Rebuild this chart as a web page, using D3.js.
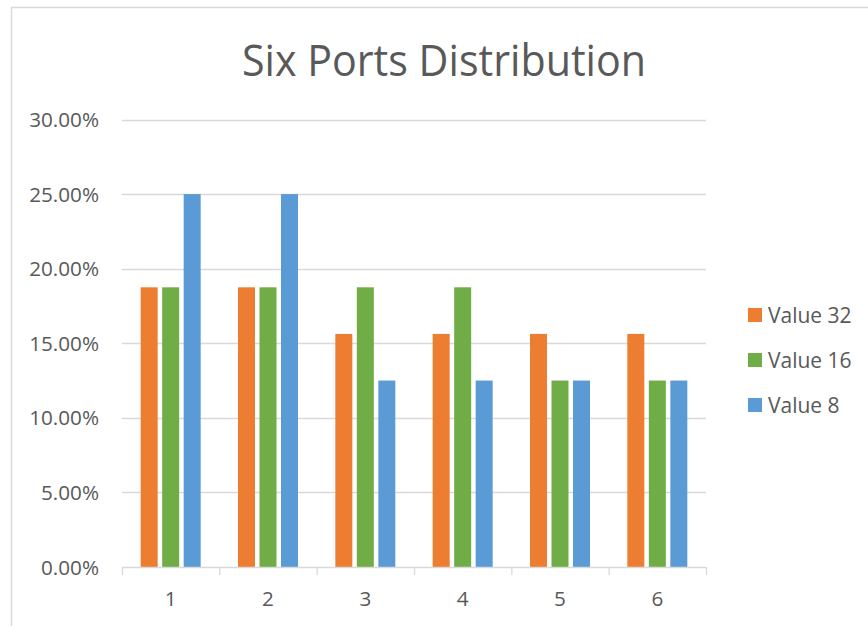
<!DOCTYPE html>
<html><head><meta charset="utf-8">
<script src="https://cdn.jsdelivr.net/npm/d3@7"></script>
<style>html,body{margin:0;padding:0;background:#fff;}svg{display:block;}</style>
</head><body>
<script>
const categories = ["1","2","3","4","5","6"];
const seriesNames = ["Value 32","Value 16","Value 8"];
const value32 = [0.1875,0.1875,0.15625,0.15625,0.15625,0.15625];
const value16 = [0.1875,0.1875,0.1875,0.1875,0.125,0.125];
const value8  = [0.25,0.25,0.125,0.125,0.125,0.125];
const yTicks = [0,0.05,0.10,0.15,0.20,0.25,0.30];
const colors = ["#ED7D31","#70AD47","#5B9BD5"];
const series = [value32,value16,value8];

const W=868,H=626;
const svg=d3.select("body").append("svg").attr("width",W).attr("height",H);
const font="'Open Sans', 'Liberation Sans', sans-serif";
const textColor="#595959", gridColor="#d9d9d9";

// chart border
svg.append("path").attr("d",`M11.5,${H} V7.5 H${W}`).attr("fill","none").attr("stroke",gridColor).attr("stroke-width",1.5);

// title
svg.append("text").attr("x",444).attr("y",76).attr("text-anchor","middle")
  .attr("font-family",font).attr("font-weight",400).attr("font-size",43).attr("fill",textColor)
  .attr("textLength",404).attr("lengthAdjust","spacingAndGlyphs")
  .text("Six Ports Distribution");

const x=d3.scaleBand().domain(categories).range([122,706]).padding(0);
const y=d3.scaleLinear().domain([0,0.30]).range([567,119.5]);

// gridlines
svg.append("g").selectAll("line").data(yTicks.slice(1)).join("line")
  .attr("x1",122).attr("x2",706).attr("y1",d=>Math.round(y(d))+0.5).attr("y2",d=>Math.round(y(d))+0.5)
  .attr("stroke",gridColor).attr("stroke-width",1.3);

// y labels
svg.append("g").selectAll("text").data(yTicks).join("text")
  .attr("x",99).attr("y",d=>y(d)+7.5).attr("text-anchor","end")
  .attr("font-family",font).attr("font-size",20.7).attr("fill",textColor)
  .text(d=>d3.format(".2%")(d));

// bars
const barW=17, step=21.5;
series.forEach((vals,si)=>{
  svg.append("g").selectAll("rect").data(vals).join("rect")
    .attr("x",(d,i)=>x(categories[i])+x.bandwidth()/2+(si-1)*step-barW/2)
    .attr("width",barW)
    .attr("y",d=>y(d))
    .attr("height",d=>y(0)-y(d))
    .attr("fill",colors[si]);
});

// x axis
const ax=svg.append("g");
ax.append("line").attr("x1",122).attr("x2",706).attr("y1",567.5).attr("y2",567.5).attr("stroke",gridColor).attr("stroke-width",1.3);
const bounds=categories.map(c=>x(c)).concat([x.range()[1]]);
ax.selectAll("line.tk").data(bounds).join("line").attr("class","tk")
  .attr("x1",d=>d+0.5).attr("x2",d=>d+0.5).attr("y1",567).attr("y2",575)
  .attr("stroke",gridColor).attr("stroke-width",1.3);
ax.selectAll("text").data(categories).join("text")
  .attr("x",d=>x(d)+x.bandwidth()/2).attr("y",606).attr("text-anchor","middle")
  .attr("font-family",font).attr("font-size",20.7).attr("fill",textColor).text(d=>d);

// legend
const lg=svg.append("g").selectAll("g").data(seriesNames).join("g")
  .attr("transform",(d,i)=>`translate(748,${308+i*45})`);
lg.append("rect").attr("width",14).attr("height",14).attr("fill",(d,i)=>colors[i]);
lg.append("text").attr("x",20).attr("y",14.5).attr("font-family",font).attr("font-size",21)
  .attr("fill",textColor).text(d=>d);
</script>
</body></html>
